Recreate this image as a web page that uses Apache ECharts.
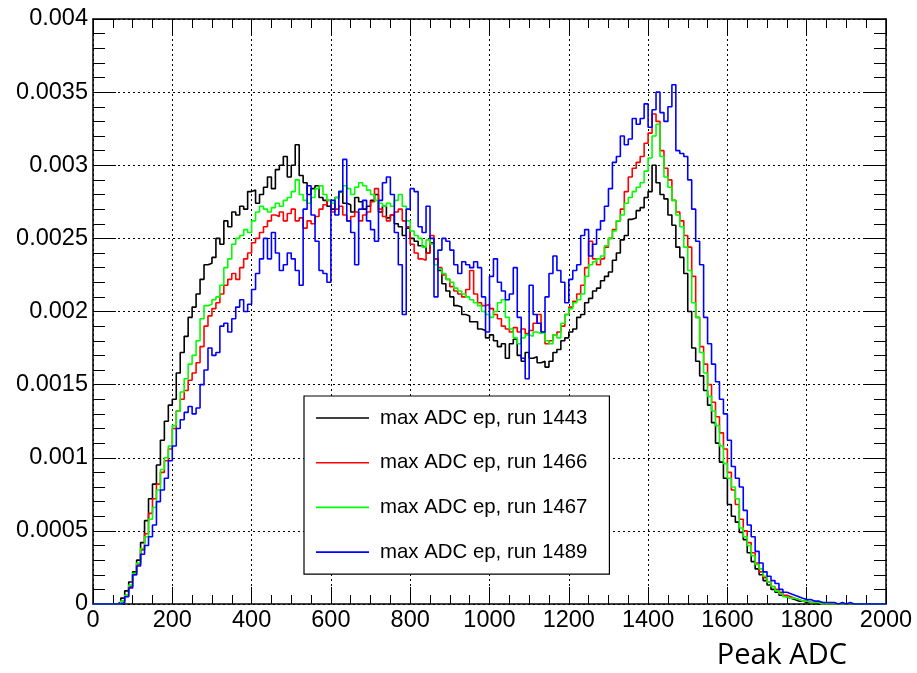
<!DOCTYPE html>
<html>
<head>
<meta charset="utf-8">
<script src="https://cdn.jsdelivr.net/npm/echarts@6/dist/echarts.min.js"></script>
<style>
  html, body { margin: 0; padding: 0; background: #fff; }
  #chart { width: 917px; height: 673px; }
</style>
</head>
<body>
<div id="chart"></div>
<script>
// Histogram bins: 0..2000 ADC, 10 ADC per bin. Values in units of 1e-5 (normalised counts).
const BIN_WIDTH = 10;
const UNIT = 1e-5;

const xTicks = [0, 200, 400, 600, 800, 1000, 1200, 1400, 1600, 1800, 2000];
const yTicks = [0, 0.0005, 0.001, 0.0015, 0.002, 0.0025, 0.003, 0.0035, 0.004];

const seriesNames = ['max ADC ep, run 1443', 'max ADC ep, run 1466', 'max ADC ep, run 1467', 'max ADC ep, run 1489'];
const seriesColors = ['#000000', '#ff0000', '#00ff00', '#0000ff'];

const run1443 = [
  0,0,0,0,0,0,1,4,9,15,
  22,30,42,57,72,82,95,112,125,136,
  140,158,172,183,196,203,212,222,232,233,
  237,250,246,262,258,268,266,272,270,282,
  283,274,280,285,292,284,297,300,306,292,
  300,314,293,288,280,284,286,278,276,272,
  270,278,282,274,273,268,278,275,270,272,
  276,280,268,272,264,266,260,258,252,257,
  250,248,245,244,240,247,236,228,219,214,
  210,204,203,198,197,193,193,188,187,182,
  184,180,176,178,168,178,181,170,166,172,
  168,169,165,166,162,166,172,174,180,182,
  186,188,196,198,206,209,214,216,221,224,
  227,235,240,249,252,263,264,269,271,278,
  282,300,288,280,277,266,259,244,237,226,
  200,175,166,156,146,136,124,110,97,86,
  68,60,56,49,44,35,29,24,20,16,
  13,10,8,6,5,4,3,2,2,1,
  1,1,0,1,0,0,0,0,0,0,
  0,0,0,0,0,0,0,0,0,0
];

const run1466 = [
  0,0,0,0,0,0,0,2,6,12,
  20,27,37,48,62,72,82,90,98,106,
  120,132,140,146,153,158,165,176,190,197,
  202,206,212,218,222,226,222,230,236,240,
  247,250,254,258,262,266,265,268,262,267,
  270,262,264,257,262,260,265,270,273,276,
  268,270,272,266,262,265,268,262,266,268,
  275,284,270,265,262,266,268,270,262,258,
  246,240,236,235,240,252,236,230,225,222,
  217,214,212,210,215,228,212,206,204,205,
  202,198,195,190,188,186,189,186,188,185,
  187,192,198,186,178,180,184,186,190,198,
  203,207,212,218,230,248,236,232,236,244,
  250,256,262,270,282,292,298,302,306,315,
  322,335,330,310,298,290,276,268,262,252,
  244,224,196,176,164,150,138,128,117,106,
  90,78,68,58,50,42,35,28,22,18,
  15,12,10,8,6,5,4,3,2,2,
  1,1,1,0,0,0,0,0,0,0,
  0,0,0,0,0,0,0,0,0,0
];

const run1467 = [
  0,0,0,0,0,0,0,2,6,13,
  21,28,38,46,58,66,78,92,100,108,
  122,132,145,154,164,170,180,195,204,205,
  208,210,218,230,236,246,250,252,256,254,
  262,268,272,270,268,271,274,272,276,278,
  282,290,280,276,274,278,284,286,280,276,
  274,278,282,286,284,280,285,288,286,283,
  280,276,274,272,274,272,276,280,272,262,
  255,252,250,244,249,246,232,229,226,222,
  220,216,214,212,210,208,206,204,200,198,
  196,200,206,208,196,188,182,178,182,184,
  183,186,185,186,180,178,184,182,192,198,
  202,206,208,212,224,232,234,236,238,245,
  250,255,262,266,274,278,282,285,288,296,
  305,320,328,306,292,285,276,266,258,244,
  228,206,196,172,158,142,132,122,108,96,
  86,80,72,52,46,40,33,27,24,19,
  15,12,9,7,5,4,4,3,2,2,
  1,1,1,0,0,0,0,0,0,0,
  0,0,0,0,0,0,0,0,0,0
];

const run1489 = [
  0,0,0,0,0,0,0,1,5,11,
  20,26,34,40,46,54,70,78,86,98,
  108,120,126,131,135,130,134,150,160,175,
  170,172,190,192,186,195,203,208,200,205,
  215,226,236,250,236,254,240,228,232,240,
  236,228,218,270,286,266,248,228,226,220,
  276,266,282,304,262,254,232,270,276,262,
  256,248,276,288,292,280,254,232,198,270,
  284,282,258,254,272,250,210,242,250,248,
  242,232,226,234,232,230,234,230,210,186,
  224,236,220,214,208,212,230,196,168,154,
  218,198,192,186,210,226,238,228,220,206,
  222,228,232,252,256,238,246,256,262,272,
  284,302,306,320,314,318,332,328,332,342,
  326,338,350,336,330,340,355,310,308,306,
  290,270,248,232,196,178,164,152,140,130,
  112,94,86,80,64,54,46,36,28,22,
  19,16,14,10,8,7,6,5,4,3,
  3,2,2,1,1,1,1,0,1,0,
  1,0,0,0,0,0,0,0,0,0
];

const runValues = [run1443, run1466, run1467, run1489];

function toSteps(vals) {
  const pts = vals.map((v, i) => [i * BIN_WIDTH, v * UNIT]);
  pts.push([vals.length * BIN_WIDTH, vals[vals.length - 1] * UNIT]);
  return pts;
}

const FONT = '"Liberation Sans", Arial, Helvetica, sans-serif';
const AXIS_COLOR = '#000';

function xAxisCfg(pos, labels) {
  return {
    type: 'value', position: pos,
    min: xTicks[0], max: xTicks[xTicks.length - 1], interval: xTicks[1] - xTicks[0],
    axisLine: { show: true, onZero: false, lineStyle: { color: AXIS_COLOR, width: 1.5 } },
    axisTick: { show: true, inside: true, length: 17, lineStyle: { color: AXIS_COLOR, width: 1 } },
    minorTick: { show: true, splitNumber: 4, length: 9, lineStyle: { color: AXIS_COLOR, width: 1 } },
    axisLabel: { show: labels, color: '#000', fontSize: 23.5, fontFamily: FONT, margin: 5,
      formatter: v => String(Math.round(v)) },
    splitLine: { show: labels, lineStyle: { color: '#000', width: 1, type: [2, 3] } },
    minorSplitLine: { show: false }
  };
}
function yAxisCfg(pos, labels) {
  return {
    type: 'value', position: pos,
    min: yTicks[0], max: yTicks[yTicks.length - 1], interval: yTicks[1] - yTicks[0],
    axisLine: { show: true, onZero: false, lineStyle: { color: AXIS_COLOR, width: 1.5 } },
    axisTick: { show: true, inside: true, length: 23, lineStyle: { color: AXIS_COLOR, width: 1 } },
    minorTick: { show: true, splitNumber: 5, length: 12, lineStyle: { color: AXIS_COLOR, width: 1 } },
    axisLabel: { show: labels, color: '#000', fontSize: 23.5, fontFamily: FONT, margin: 5,
      formatter: v => String(parseFloat(v.toFixed(5))) },
    splitLine: { show: labels, lineStyle: { color: '#000', width: 1, type: [2, 3] } },
    minorSplitLine: { show: false }
  };
}

const chart = echarts.init(document.getElementById('chart'), null, { renderer: 'canvas' });
chart.setOption({
  animation: false,
  backgroundColor: '#fff',
  grid: { left: 93, right: 31, top: 19, bottom: 69, containLabel: false },
  xAxis: [xAxisCfg('bottom', true), xAxisCfg('top', false)],
  yAxis: [yAxisCfg('left', true), yAxisCfg('right', false)],
  legend: {
    orient: 'vertical', left: 304, top: 396,
    icon: 'rect',
    itemWidth: 53, itemHeight: 1.6, itemGap: 24.7,
    padding: [12, 22, 12, 12],
    backgroundColor: '#fff', borderColor: '#000', borderWidth: 1.2, borderRadius: 0,
    textStyle: { fontSize: 20.4, fontFamily: FONT, color: '#000', lineHeight: 20, padding: [0, 0, 0, 6] },
    data: seriesNames
  },
  series: seriesNames.map((name, k) => ({
    name: name,
    type: 'line',
    step: 'end',
    xAxisIndex: 0, yAxisIndex: 0,
    symbol: 'none', showSymbol: false,
    lineStyle: { color: seriesColors[k], width: 1.6 },
    itemStyle: { color: seriesColors[k] },
    data: toSteps(runValues[k]),
    z: 2 + k
  })),
  graphic: [{
    type: 'text', x: 847, y: 641,
    style: { text: 'Peak ADC', font: '29px "Open Sans", sans-serif', fill: '#000', textAlign: 'right', textVerticalAlign: 'top' }
  }]
});
</script>
</body>
</html>
